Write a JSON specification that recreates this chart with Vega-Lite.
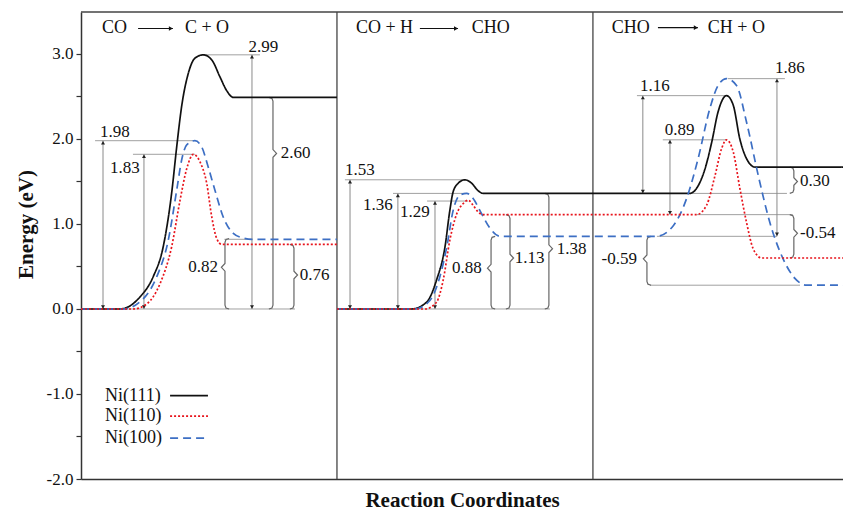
{
  "$schema": "https://vega.github.io/schema/vega-lite/v6.json",
  "width": 762,
  "height": 467,
  "autosize": {"type": "none"},
  "padding": {"left": 81, "top": 12, "right": 0, "bottom": 32},
  "background": "white",
  "config": {"view": {"stroke": null}, "font": "Liberation Serif"},
  "datasets": {
    "curves": [
      {"s":"Ni(111)","g":"a","x":0,"y":0},{"s":"Ni(111)","g":"a","x":0.152,"y":0},{"s":"Ni(111)","g":"a","x":0.23,"y":0.14},{"s":"Ni(111)","g":"a","x":0.282,"y":0.38},{"s":"Ni(111)","g":"a","x":0.321,"y":0.73},{"s":"Ni(111)","g":"a","x":0.354,"y":1.36},{"s":"Ni(111)","g":"a","x":0.374,"y":1.91},{"s":"Ni(111)","g":"a","x":0.393,"y":2.38},{"s":"Ni(111)","g":"a","x":0.419,"y":2.77},{"s":"Ni(111)","g":"a","x":0.445,"y":2.95},{"s":"Ni(111)","g":"a","x":0.478,"y":2.99},{"s":"Ni(111)","g":"a","x":0.511,"y":2.93},{"s":"Ni(111)","g":"a","x":0.543,"y":2.73},{"s":"Ni(111)","g":"a","x":0.569,"y":2.57},{"s":"Ni(111)","g":"a","x":0.595,"y":2.49},{"s":"Ni(111)","g":"a","x":1.0,"y":2.49},
      {"s":"Ni(100)","g":"a","x":0,"y":0},{"s":"Ni(100)","g":"a","x":0.165,"y":0},{"s":"Ni(100)","g":"a","x":0.243,"y":0.12},{"s":"Ni(100)","g":"a","x":0.296,"y":0.38},{"s":"Ni(100)","g":"a","x":0.341,"y":0.81},{"s":"Ni(100)","g":"a","x":0.374,"y":1.4},{"s":"Ni(100)","g":"a","x":0.393,"y":1.75},{"s":"Ni(100)","g":"a","x":0.413,"y":1.93},{"s":"Ni(100)","g":"a","x":0.445,"y":1.98},{"s":"Ni(100)","g":"a","x":0.471,"y":1.91},{"s":"Ni(100)","g":"a","x":0.497,"y":1.67},{"s":"Ni(100)","g":"a","x":0.523,"y":1.4},{"s":"Ni(100)","g":"a","x":0.556,"y":1.08},{"s":"Ni(100)","g":"a","x":0.595,"y":0.89},{"s":"Ni(100)","g":"a","x":0.634,"y":0.835},{"s":"Ni(100)","g":"a","x":0.668,"y":0.82},{"s":"Ni(100)","g":"a","x":1.0,"y":0.82},
      {"s":"Ni(110)","g":"a","x":0,"y":0},{"s":"Ni(110)","g":"a","x":0.204,"y":0},{"s":"Ni(110)","g":"a","x":0.257,"y":0.06},{"s":"Ni(110)","g":"a","x":0.309,"y":0.3},{"s":"Ni(110)","g":"a","x":0.354,"y":0.73},{"s":"Ni(110)","g":"a","x":0.387,"y":1.28},{"s":"Ni(110)","g":"a","x":0.413,"y":1.65},{"s":"Ni(110)","g":"a","x":0.439,"y":1.82},{"s":"Ni(110)","g":"a","x":0.465,"y":1.73},{"s":"Ni(110)","g":"a","x":0.491,"y":1.48},{"s":"Ni(110)","g":"a","x":0.511,"y":1.08},{"s":"Ni(110)","g":"a","x":0.53,"y":0.83},{"s":"Ni(110)","g":"a","x":0.55,"y":0.76},{"s":"Ni(110)","g":"a","x":1.0,"y":0.76},
      {"s":"Ni(111)","g":"b","x":1.0,"y":0},{"s":"Ni(111)","g":"b","x":1.292,"y":0},{"s":"Ni(111)","g":"b","x":1.35,"y":0.08},{"s":"Ni(111)","g":"b","x":1.389,"y":0.34},{"s":"Ni(111)","g":"b","x":1.422,"y":0.73},{"s":"Ni(111)","g":"b","x":1.441,"y":1.16},{"s":"Ni(111)","g":"b","x":1.454,"y":1.38},{"s":"Ni(111)","g":"b","x":1.474,"y":1.48},{"s":"Ni(111)","g":"b","x":1.5,"y":1.52},{"s":"Ni(111)","g":"b","x":1.526,"y":1.48},{"s":"Ni(111)","g":"b","x":1.552,"y":1.39},{"s":"Ni(111)","g":"b","x":1.571,"y":1.36},{"s":"Ni(111)","g":"b","x":2.379,"y":1.36},{"s":"Ni(111)","g":"b","x":2.405,"y":1.42},{"s":"Ni(111)","g":"b","x":2.438,"y":1.65},{"s":"Ni(111)","g":"b","x":2.464,"y":1.96},{"s":"Ni(111)","g":"b","x":2.489,"y":2.32},{"s":"Ni(111)","g":"b","x":2.522,"y":2.51},{"s":"Ni(111)","g":"b","x":2.548,"y":2.4},{"s":"Ni(111)","g":"b","x":2.574,"y":2.0},{"s":"Ni(111)","g":"b","x":2.6,"y":1.77},{"s":"Ni(111)","g":"b","x":2.633,"y":1.67},{"s":"Ni(111)","g":"b","x":2.977,"y":1.67},
      {"s":"Ni(100)","g":"b","x":1.0,"y":0},{"s":"Ni(100)","g":"b","x":1.305,"y":0},{"s":"Ni(100)","g":"b","x":1.363,"y":0.1},{"s":"Ni(100)","g":"b","x":1.402,"y":0.38},{"s":"Ni(100)","g":"b","x":1.429,"y":0.73},{"s":"Ni(100)","g":"b","x":1.454,"y":1.16},{"s":"Ni(100)","g":"b","x":1.48,"y":1.34},{"s":"Ni(100)","g":"b","x":1.507,"y":1.36},{"s":"Ni(100)","g":"b","x":1.532,"y":1.3},{"s":"Ni(100)","g":"b","x":1.565,"y":1.12},{"s":"Ni(100)","g":"b","x":1.598,"y":0.95},{"s":"Ni(100)","g":"b","x":1.637,"y":0.855},{"s":"Ni(100)","g":"b","x":2.249,"y":0.855},{"s":"Ni(100)","g":"b","x":2.314,"y":0.98},{"s":"Ni(100)","g":"b","x":2.366,"y":1.3},{"s":"Ni(100)","g":"b","x":2.411,"y":1.77},{"s":"Ni(100)","g":"b","x":2.457,"y":2.36},{"s":"Ni(100)","g":"b","x":2.489,"y":2.63},{"s":"Ni(100)","g":"b","x":2.522,"y":2.71},{"s":"Ni(100)","g":"b","x":2.561,"y":2.63},{"s":"Ni(100)","g":"b","x":2.6,"y":2.2},{"s":"Ni(100)","g":"b","x":2.646,"y":1.57},{"s":"Ni(100)","g":"b","x":2.691,"y":1.02},{"s":"Ni(100)","g":"b","x":2.743,"y":0.59},{"s":"Ni(100)","g":"b","x":2.789,"y":0.36},{"s":"Ni(100)","g":"b","x":2.835,"y":0.28},{"s":"Ni(100)","g":"b","x":2.977,"y":0.28},
      {"s":"Ni(110)","g":"b","x":1.0,"y":0},{"s":"Ni(110)","g":"b","x":1.344,"y":0},{"s":"Ni(110)","g":"b","x":1.389,"y":0.08},{"s":"Ni(110)","g":"b","x":1.415,"y":0.34},{"s":"Ni(110)","g":"b","x":1.441,"y":0.81},{"s":"Ni(110)","g":"b","x":1.468,"y":1.12},{"s":"Ni(110)","g":"b","x":1.493,"y":1.24},{"s":"Ni(110)","g":"b","x":1.513,"y":1.28},{"s":"Ni(110)","g":"b","x":1.532,"y":1.22},{"s":"Ni(110)","g":"b","x":1.552,"y":1.14},{"s":"Ni(110)","g":"b","x":1.571,"y":1.11},{"s":"Ni(110)","g":"b","x":2.405,"y":1.11},{"s":"Ni(110)","g":"b","x":2.444,"y":1.22},{"s":"Ni(110)","g":"b","x":2.477,"y":1.57},{"s":"Ni(110)","g":"b","x":2.503,"y":1.89},{"s":"Ni(110)","g":"b","x":2.522,"y":1.99},{"s":"Ni(110)","g":"b","x":2.548,"y":1.85},{"s":"Ni(110)","g":"b","x":2.574,"y":1.42},{"s":"Ni(110)","g":"b","x":2.6,"y":1.02},{"s":"Ni(110)","g":"b","x":2.626,"y":0.71},{"s":"Ni(110)","g":"b","x":2.659,"y":0.6},{"s":"Ni(110)","g":"b","x":2.977,"y":0.6}
    ],
    "hlines": [
      {"x":0.478,"x2":0.699,"y":2.99},{"x":0.055,"x2":0.437,"y":1.98},{"x":0.203,"x2":0.445,"y":1.82},{"x":0,"x2":0.836,"y":0},{"x":0.56,"x2":0.67,"y":0.82},
      {"x":1.031,"x2":1.5,"y":1.52},{"x":1.219,"x2":1.507,"y":1.36},{"x":1.352,"x2":1.512,"y":1.27},{"x":1.0,"x2":1.832,"y":0},
      {"x":2.172,"x2":2.522,"y":2.51},{"x":2.379,"x2":2.758,"y":1.36},{"x":2.273,"x2":2.522,"y":1.99},{"x":2.406,"x2":2.781,"y":1.11},{"x":2.527,"x2":2.75,"y":2.71},{"x":2.25,"x2":2.719,"y":0.855},{"x":2.223,"x2":2.809,"y":0.28}
    ],
    "arrows": [
      {"x":0.668,"y":0,"y2":2.99},{"x":0.086,"y":0,"y2":1.98},{"x":0.246,"y":0,"y2":1.82},
      {"x":1.051,"y":0,"y2":1.52},{"x":1.238,"y":0,"y2":1.36},{"x":1.383,"y":0,"y2":1.27},
      {"x":2.195,"y":1.36,"y2":2.51},{"x":2.301,"y":1.11,"y2":1.99},{"x":2.719,"y":0.855,"y2":2.71}
    ],
    "heads": [
      {"x":0.668,"y":2.99,"d":"up"},{"x":0.668,"y":0,"d":"down"},
      {"x":0.086,"y":1.98,"d":"up"},{"x":0.086,"y":0,"d":"down"},
      {"x":0.246,"y":1.82,"d":"up"},{"x":0.246,"y":0,"d":"down"},
      {"x":1.051,"y":1.52,"d":"up"},{"x":1.051,"y":0,"d":"down"},
      {"x":1.238,"y":1.36,"d":"up"},{"x":1.238,"y":0,"d":"down"},
      {"x":1.383,"y":1.27,"d":"up"},{"x":1.383,"y":0,"d":"down"},
      {"x":2.195,"y":2.51,"d":"up"},{"x":2.195,"y":1.36,"d":"down"},
      {"x":2.301,"y":1.99,"d":"up"},{"x":2.301,"y":1.11,"d":"down"},
      {"x":2.719,"y":2.71,"d":"up"},{"x":2.719,"y":0.855,"d":"down"}
    ],
    "braces": [
      {"b":1,"o":1,"x":0.734,"y":2.49},{"b":1,"o":2,"x":0.746,"y":2.478},{"b":1,"o":3,"x":0.75,"y":2.445},{"b":1,"o":4,"x":0.75,"y":1.875},{"b":1,"o":5,"x":0.764,"y":1.83},{"b":1,"o":6,"x":0.75,"y":1.785},{"b":1,"o":7,"x":0.75,"y":0.045},{"b":1,"o":8,"x":0.746,"y":0.012},{"b":1,"o":9,"x":0.734,"y":0},
      {"b":2,"o":1,"x":0.5785,"y":0.83},{"b":2,"o":2,"x":0.5665,"y":0.818},{"b":2,"o":3,"x":0.5625,"y":0.785},{"b":2,"o":4,"x":0.5625,"y":0.535},{"b":2,"o":5,"x":0.5485,"y":0.49},{"b":2,"o":6,"x":0.5625,"y":0.445},{"b":2,"o":7,"x":0.5625,"y":0.045},{"b":2,"o":8,"x":0.5665,"y":0.012},{"b":2,"o":9,"x":0.5785,"y":0},
      {"b":3,"o":1,"x":0.816,"y":0.76},{"b":3,"o":2,"x":0.828,"y":0.748},{"b":3,"o":3,"x":0.832,"y":0.715},{"b":3,"o":4,"x":0.832,"y":0.445},{"b":3,"o":5,"x":0.846,"y":0.4},{"b":3,"o":6,"x":0.832,"y":0.355},{"b":3,"o":7,"x":0.832,"y":0.045},{"b":3,"o":8,"x":0.828,"y":0.012},{"b":3,"o":9,"x":0.816,"y":0},
      {"b":4,"o":1,"x":1.618,"y":0.855},{"b":4,"o":2,"x":1.606,"y":0.843},{"b":4,"o":3,"x":1.602,"y":0.81},{"b":4,"o":4,"x":1.602,"y":0.525},{"b":4,"o":5,"x":1.588,"y":0.48},{"b":4,"o":6,"x":1.602,"y":0.435},{"b":4,"o":7,"x":1.602,"y":0.045},{"b":4,"o":8,"x":1.606,"y":0.012},{"b":4,"o":9,"x":1.618,"y":0},
      {"b":5,"o":1,"x":1.66,"y":1.11},{"b":5,"o":2,"x":1.672,"y":1.098},{"b":5,"o":3,"x":1.676,"y":1.065},{"b":5,"o":4,"x":1.676,"y":0.645},{"b":5,"o":5,"x":1.69,"y":0.6},{"b":5,"o":6,"x":1.676,"y":0.555},{"b":5,"o":7,"x":1.676,"y":0.045},{"b":5,"o":8,"x":1.672,"y":0.012},{"b":5,"o":9,"x":1.66,"y":0},
      {"b":6,"o":1,"x":1.812,"y":1.36},{"b":6,"o":2,"x":1.824,"y":1.348},{"b":6,"o":3,"x":1.828,"y":1.315},{"b":6,"o":4,"x":1.828,"y":0.755},{"b":6,"o":5,"x":1.842,"y":0.71},{"b":6,"o":6,"x":1.828,"y":0.665},{"b":6,"o":7,"x":1.828,"y":0.045},{"b":6,"o":8,"x":1.824,"y":0.012},{"b":6,"o":9,"x":1.812,"y":0},
      {"b":7,"o":1,"x":2.769,"y":1.67},{"b":7,"o":2,"x":2.781,"y":1.658},{"b":7,"o":3,"x":2.785,"y":1.625},{"b":7,"o":4,"x":2.785,"y":1.545},{"b":7,"o":5,"x":2.799,"y":1.5},{"b":7,"o":6,"x":2.785,"y":1.455},{"b":7,"o":7,"x":2.785,"y":1.405},{"b":7,"o":8,"x":2.781,"y":1.372},{"b":7,"o":9,"x":2.769,"y":1.36},
      {"b":8,"o":1,"x":2.769,"y":1.11},{"b":8,"o":2,"x":2.781,"y":1.098},{"b":8,"o":3,"x":2.785,"y":1.065},{"b":8,"o":4,"x":2.785,"y":0.935},{"b":8,"o":5,"x":2.799,"y":0.89},{"b":8,"o":6,"x":2.785,"y":0.845},{"b":8,"o":7,"x":2.785,"y":0.645},{"b":8,"o":8,"x":2.781,"y":0.612},{"b":8,"o":9,"x":2.769,"y":0.6},
      {"b":9,"o":1,"x":2.227,"y":0.855},{"b":9,"o":2,"x":2.215,"y":0.843},{"b":9,"o":3,"x":2.211,"y":0.81},{"b":9,"o":4,"x":2.211,"y":0.635},{"b":9,"o":5,"x":2.197,"y":0.59},{"b":9,"o":6,"x":2.211,"y":0.545},{"b":9,"o":7,"x":2.211,"y":0.325},{"b":9,"o":8,"x":2.215,"y":0.292},{"b":9,"o":9,"x":2.227,"y":0.28}
    ],
    "labels": [
      {"x":0.654,"y":3.08,"t":"2.99","side":"L"},{"x":0.074,"y":2.08,"t":"1.98","side":"L"},{"x":0.113,"y":1.66,"t":"1.83","side":"L"},
      {"x":0.78,"y":1.83,"t":"2.60","side":"L"},{"x":0.855,"y":0.4,"t":"0.76","side":"L"},{"x":0.535,"y":0.49,"t":"0.82","side":"R"},
      {"x":1.031,"y":1.63,"t":"1.53","side":"L"},{"x":1.102,"y":1.22,"t":"1.36","side":"L"},{"x":1.246,"y":1.14,"t":"1.29","side":"L"},
      {"x":1.566,"y":0.48,"t":"0.88","side":"R"},{"x":1.695,"y":0.6,"t":"1.13","side":"L"},{"x":1.859,"y":0.71,"t":"1.38","side":"L"},
      {"x":2.184,"y":2.62,"t":"1.16","side":"L"},{"x":2.281,"y":2.1,"t":"0.89","side":"L"},{"x":2.711,"y":2.83,"t":"1.86","side":"L"},
      {"x":2.809,"y":1.5,"t":"0.30","side":"L"},{"x":2.809,"y":0.89,"t":"-0.54","side":"L"},{"x":2.172,"y":0.59,"t":"-0.59","side":"R"}
    ],
    "titles": [
      {"x":0.082,"y":3.3,"t":"CO"},{"x":0.406,"y":3.3,"t":"C + O"},
      {"x":1.074,"y":3.3,"t":"CO + H"},{"x":1.527,"y":3.3,"t":"CHO"},
      {"x":2.074,"y":3.31,"t":"CHO"},{"x":2.449,"y":3.31,"t":"CH + O"}
    ],
    "tarrows": [
      {"x":0.223,"x2":0.359,"y":3.3},{"x":1.324,"x2":1.473,"y":3.3},{"x":2.254,"x2":2.41,"y":3.31}
    ],
    "theads": [
      {"x":0.359,"y":3.3},{"x":1.473,"y":3.3},{"x":2.41,"y":3.31}
    ],
    "legend": [
      {"s":"Ni(111)","x":0.094,"x2":0.348,"x3":0.496,"y":-1.02},
      {"s":"Ni(110)","x":0.094,"x2":0.348,"x3":0.496,"y":-1.26},
      {"s":"Ni(100)","x":0.094,"x2":0.348,"x3":0.496,"y":-1.52}
    ],
    "frameV": [{"x":1,"y":-2,"y2":3.494},{"x":2,"y":-2,"y2":3.494}],
    "frameH": [{"x":0,"x2":2.977,"y":3.494}]
  },
  "encoding": {
    "x": {"field": "x", "type": "quantitative", "scale": {"domain": [0, 2.977], "nice": false, "zero": false},
      "axis": {"title": "Reaction Coordinates", "titleFont": "Liberation Serif", "titleFontSize": 21, "titleFontWeight": "bold", "titleColor": "#111", "titlePadding": 10, "ticks": false, "labels": false, "grid": false, "domainColor": "#333", "domainWidth": 1.5}},
    "y": {"field": "y", "type": "quantitative", "scale": {"domain": [-2, 3.494], "nice": false, "zero": false},
      "axis": {"title": "Energy (eV)", "titleFont": "Liberation Serif", "titleFontSize": 21, "titleFontWeight": "bold", "titleColor": "#111", "titlePadding": 10, "titleY": 212,
        "values": [-2, -1.5, -1, -0.5, 0, 0.5, 1, 1.5, 2, 2.5, 3],
        "labelExpr": "datum.value % 1 === 0 ? (datum.value + '.0') : ''",
        "labelFont": "Liberation Serif", "labelFontSize": 17, "labelColor": "#111", "labelPadding": 3,
        "tickSize": 5, "tickColor": "#333", "tickWidth": 1.2, "grid": false, "domainColor": "#333", "domainWidth": 1.5}}
  },
  "layer": [
    {"data": {"name": "frameV"}, "mark": {"type": "rule", "color": "#444", "strokeWidth": 1.3}, "encoding": {"y2": {"field": "y2"}}},
    {"data": {"name": "frameH"}, "mark": {"type": "rule", "color": "#444", "strokeWidth": 1.5}, "encoding": {"x2": {"field": "x2"}}},
    {"data": {"name": "hlines"}, "mark": {"type": "rule", "color": "#a0a0a0", "strokeWidth": 1}, "encoding": {"x2": {"field": "x2"}}},
    {"data": {"name": "arrows"}, "mark": {"type": "rule", "color": "#8a8a8a", "strokeWidth": 1}, "encoding": {"y2": {"field": "y2"}}},
    {"data": {"name": "heads"}, "transform": [{"filter": "datum.d === 'up'"}], "mark": {"type": "point", "shape": "triangle-up", "filled": true, "color": "#222", "size": 16, "opacity": 1, "yOffset": 2}},
    {"data": {"name": "heads"}, "transform": [{"filter": "datum.d === 'down'"}], "mark": {"type": "point", "shape": "triangle-down", "filled": true, "color": "#222", "size": 16, "opacity": 1, "yOffset": -2}},
    {"data": {"name": "braces"}, "mark": {"type": "line", "color": "#666", "strokeWidth": 1.2, "interpolate": "linear"}, "encoding": {"detail": {"field": "b"}, "order": {"field": "o"}}},
    {"data": {"name": "curves"}, "mark": {"type": "line", "strokeWidth": 1.7, "interpolate": "monotone"},
      "encoding": {
        "color": {"field": "s", "type": "nominal", "scale": {"domain": ["Ni(111)", "Ni(110)", "Ni(100)"], "range": ["#111111", "#e8141c", "#3d6fc4"]}, "legend": null},
        "strokeDash": {"field": "s", "type": "nominal", "scale": {"domain": ["Ni(111)", "Ni(110)", "Ni(100)"], "range": [[1, 0], [2, 2], [8, 5]]}, "legend": null},
        "detail": {"field": "g"}}},
    {"data": {"name": "labels"}, "transform": [{"filter": "datum.side === 'L'"}], "mark": {"type": "text", "align": "left", "baseline": "middle", "font": "Liberation Serif", "fontSize": 17, "color": "#111"}, "encoding": {"text": {"field": "t"}}},
    {"data": {"name": "labels"}, "transform": [{"filter": "datum.side === 'R'"}], "mark": {"type": "text", "align": "right", "baseline": "middle", "font": "Liberation Serif", "fontSize": 17, "color": "#111"}, "encoding": {"text": {"field": "t"}}},
    {"data": {"name": "titles"}, "mark": {"type": "text", "align": "left", "baseline": "middle", "font": "Liberation Serif", "fontSize": 18, "color": "#111"}, "encoding": {"text": {"field": "t"}}},
    {"data": {"name": "tarrows"}, "mark": {"type": "rule", "color": "#111", "strokeWidth": 1.2}, "encoding": {"x2": {"field": "x2"}}},
    {"data": {"name": "theads"}, "mark": {"type": "point", "shape": "triangle-right", "filled": true, "color": "#111", "size": 22, "opacity": 1, "xOffset": -2}},
    {"data": {"name": "legend"}, "mark": {"type": "text", "align": "left", "baseline": "middle", "font": "Liberation Serif", "fontSize": 18, "color": "#111"}, "encoding": {"text": {"field": "s"}}},
    {"data": {"name": "legend"}, "mark": {"type": "rule", "strokeWidth": 1.7},
      "encoding": {"x": {"field": "x2", "type": "quantitative"}, "x2": {"field": "x3"},
        "color": {"field": "s", "type": "nominal", "legend": null},
        "strokeDash": {"field": "s", "type": "nominal", "legend": null}}}
  ]
}
